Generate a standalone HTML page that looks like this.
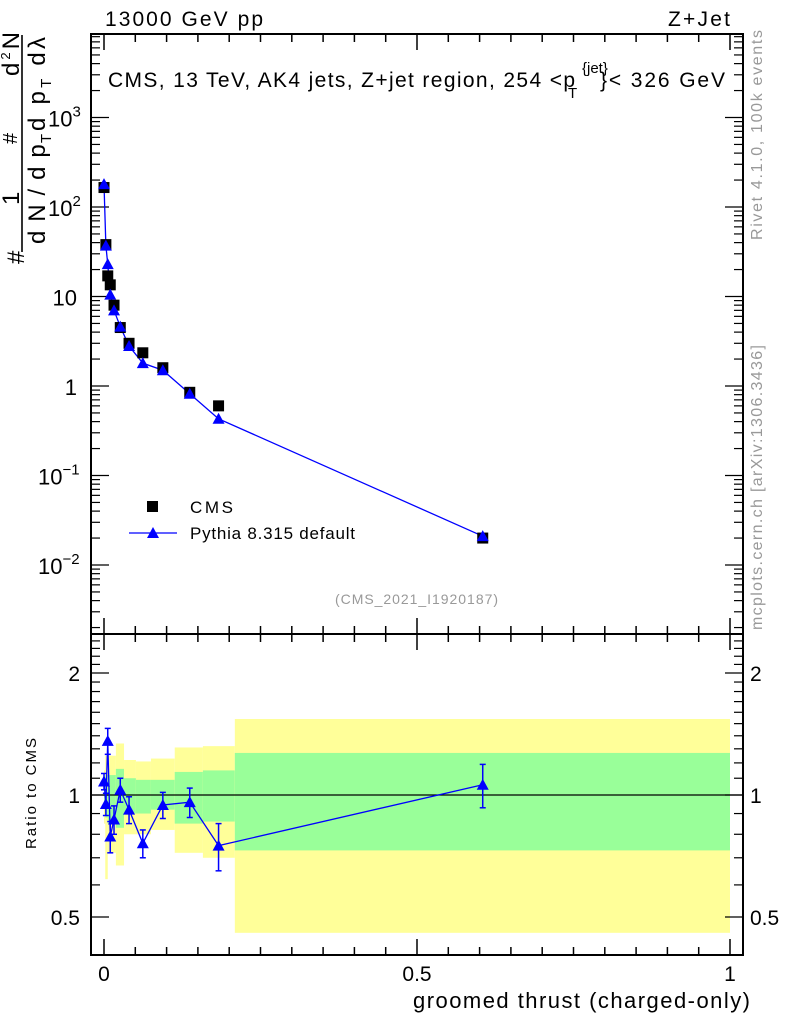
<!DOCTYPE html>
<html><head><meta charset="utf-8"><style>
body{margin:0;background:#fff;}
svg text{font-family:"Liberation Sans",sans-serif;}
</style></head><body>
<svg id="chart" width="786" height="1024" xmlns="http://www.w3.org/2000/svg">
<g id="g-bands"></g>
<g id="g-axes"></g>
<g id="g-marks"></g>
<text x="105" y="26" font-size="21" textLength="158">13000 GeV pp</text>
<text x="668" y="26" font-size="21" textLength="62">Z+Jet</text>
<g font-size="21">
<text x="108" y="87" textLength="467">CMS, 13 TeV, AK4 jets, Z+jet region, 254 &lt;p</text>
<text x="582" y="73" font-size="15">{jet}</text>
<text x="568" y="98" font-size="15">T</text>
<text x="600" y="87" textLength="125">}&lt; 326 GeV</text>
</g>
<text x="335" y="604" font-size="14" fill="#999" textLength="163">(CMS_2021_I1920187)</text>
<text transform="translate(762,240) rotate(-90)" font-size="16" fill="#999" textLength="210">Rivet 4.1.0,  100k events</text>
<text transform="translate(762,630) rotate(-90)" font-size="16" fill="#999" textLength="285">mcplots.cern.ch [arXiv:1306.3436]</text>
<g font-size="24">
<text transform="translate(24,264) rotate(-90)">#</text>
<text transform="translate(19,205) rotate(-90)">1</text>
<text transform="translate(17,144) rotate(-90)" font-size="20">#</text>
<text transform="translate(19,76) rotate(-90)" textLength="44">d<tspan font-size="13" dy="-9">2</tspan><tspan dy="9">N</tspan></text>
<line x1="22" y1="252" x2="22" y2="35" stroke="#000" stroke-width="1.6"/>
<text transform="translate(45,244) rotate(-90)" textLength="110">d N / d p<tspan font-size="15" dy="6">T</tspan></text>
<text transform="translate(45,131) rotate(-90)" textLength="94">d p<tspan font-size="15" dy="6">T</tspan><tspan dy="-6">  d</tspan>λ</text>
</g>
<text transform="translate(36,849) rotate(-90)" font-size="15" textLength="111">Ratio to CMS</text>
<text x="413" y="1008" font-size="22" textLength="337">groomed thrust (charged-only)</text>
<g>
<rect x="147" y="501" width="11" height="11" fill="#000"/>
<text x="190" y="513" font-size="17" textLength="43">CMS</text>
<line x1="129" y1="533" x2="177" y2="533" stroke="#00f" stroke-width="1.3"/>
<polygon points="153,527 159,538 147,538" fill="#00f"/>
<text x="190" y="539" font-size="17" textLength="165">Pythia 8.315 default</text>
</g>
</svg>
<script>
const xVals=[0.0,0.003,0.006,0.01,0.016,0.026,0.04,0.062,0.094,0.137,0.183,0.605];
const cmsVals=[165,38,17,13.5,8,4.5,3,2.35,1.6,0.85,0.6,0.02];
const pyVals=[180,37,23,10.5,7,4.6,2.8,1.8,1.5,0.82,0.43,0.021];
const ratioVals=[1.08,0.95,1.36,0.79,0.87,1.03,0.92,0.76,0.945,0.96,0.75,1.06];
const ratioErr=[0.05,0.06,0.1,0.07,0.07,0.07,0.07,0.06,0.07,0.08,0.1,0.13];
const binEdges=[0,0.002,0.006,0.019,0.032,0.051,0.075,0.113,0.158,0.209,1.0];
const yellowHi=[1.15,1.25,1.25,1.34,1.22,1.21,1.23,1.31,1.32,1.54];
const yellowLo=[0.85,0.62,0.72,0.67,0.8,0.8,0.82,0.72,0.70,0.457];
const greenHi=[1.08,1.12,1.12,1.16,1.1,1.09,1.09,1.14,1.15,1.27];
const greenLo=[0.93,0.88,0.85,0.83,0.9,0.9,0.92,0.85,0.86,0.73];
const xTicksMajor=[0,0.5,1];
const xTickLabels=["0","0.5","1"];
const yDecades=[-2,-1,0,1,2,3];
const yDecLabels=["10","10","1","10","10","10"];
const yDecSup=["−2","−1","","","2","3"];
const rTicks=[0.5,1,2];
const rTickLabels=["0.5","1","2"];

const NS="http://www.w3.org/2000/svg";
const L=91,R=743,T1=34,B1=634,B2=955;
const X=v=>104+626*v;
const Y=v=>386-89.5*Math.log10(v);
const RY=v=>795-122*Math.log2(v);
function mk(p,tag,a){const e=document.createElementNS(NS,tag);for(const k in a)e.setAttribute(k,a[k]);p.appendChild(e);return e;}
const gb=document.getElementById('g-bands'),ga=document.getElementById('g-axes'),gm=document.getElementById('g-marks');

for(let i=0;i<binEdges.length-1;i++){
  const x1=X(binEdges[i]),x2=X(binEdges[i+1]);
  const y=mk(gb,'rect',{x:x1,y:RY(yellowHi[i]),width:x2-x1,height:RY(yellowLo[i])-RY(yellowHi[i]),fill:'#ffff99'});
  
  
  const g=mk(gb,'rect',{x:x1,y:RY(greenHi[i]),width:x2-x1,height:RY(greenLo[i])-RY(greenHi[i]),fill:'#99ff99'});
  
  
}
mk(ga,'rect',{x:L,y:T1,width:R-L,height:B1-T1,fill:'none',stroke:'#000','stroke-width':2});
mk(ga,'rect',{x:L,y:B1,width:R-L,height:B2-B1,fill:'none',stroke:'#000','stroke-width':2});
mk(ga,'line',{x1:L,x2:R,y1:RY(1),y2:RY(1),stroke:'#000','stroke-width':1.2});
for(let k=0;k<=20;k++){const v=k*0.05,x=X(v),big=(k%10===0),len=big?16:8;
  [T1,B1].forEach(t=>mk(ga,'line',{x1:x,x2:x,y1:t,y2:t+len,stroke:'#000','stroke-width':1.5}));
  [B1,B2].forEach(b=>mk(ga,'line',{x1:x,x2:x,y1:b,y2:b-len,stroke:'#000','stroke-width':1.5}));
}
xTicksMajor.forEach((v,i)=>{const t=mk(ga,'text',{x:X(v),y:981,'font-size':21,'text-anchor':'middle'});t.textContent=xTickLabels[i];
  
  });
for(let d=-3;d<=3;d++){for(let m=1;m<10;m++){const v=m*Math.pow(10,d),y=Y(v);if(y<T1||y>B1)continue;const len=m===1?18:9;
  mk(ga,'line',{x1:L,x2:L+len,y1:y,y2:y,stroke:'#000','stroke-width':1.2});
  mk(ga,'line',{x1:R,x2:R-len,y1:y,y2:y,stroke:'#000','stroke-width':1.2});}}
yDecades.forEach((d,i)=>{const sup=yDecSup[i];
  const t=mk(ga,'text',{x:77,y:Y(Math.pow(10,d))+9,'font-size':22,'text-anchor':sup?'start':'end'});
  t.textContent=yDecLabels[i];
  if(sup){t.setAttribute('x',sup.length>1?38:48);const s=mk(t,'tspan',{'font-size':15,dy:-10});s.textContent=sup;}
  
  });
for(let v=0.4;v<=2.5;v+=0.1){const y=RY(v);if(y<B1||y>B2)continue;const big=[0.5,1,2].some(q=>Math.abs(q-v)<1e-6);const len=big?18:9;
  mk(ga,'line',{x1:L,x2:L+len,y1:y,y2:y,stroke:'#000','stroke-width':1.2});
  mk(ga,'line',{x1:R,x2:R-len,y1:y,y2:y,stroke:'#000','stroke-width':1.2});}
rTicks.forEach((v,i)=>{[[80,'end'],[750,'start']].forEach(([x,a])=>{const t=mk(ga,'text',{x:x,y:RY(v)+8,'font-size':21,'text-anchor':a});t.textContent=rTickLabels[i];
  
  });});
mk(gm,'polyline',{points:xVals.map((x,i)=>X(x)+','+Y(pyVals[i])).join(' '),fill:'none',stroke:'#00f','stroke-width':1.3});
xVals.forEach((x,i)=>{
  const c=mk(gm,'rect',{x:X(x)-5.5,y:Y(cmsVals[i])-5.5,width:11,height:11,fill:'#000'});
  
  
  const px=X(x),py=Y(pyVals[i]);
  const p=mk(gm,'polygon',{points:`${px},${py-6} ${px+6},${py+5} ${px-6},${py+5}`,fill:'#00f'});
  
  
});
mk(gm,'polyline',{points:xVals.map((x,i)=>X(x)+','+RY(ratioVals[i])).join(' '),fill:'none',stroke:'#00f','stroke-width':1.3});
xVals.forEach((x,i)=>{const px=X(x),y1=RY(ratioVals[i]+ratioErr[i]),y2=RY(ratioVals[i]-ratioErr[i]),py=RY(ratioVals[i]);
  mk(gm,'line',{x1:px,x2:px,y1:y1,y2:y2,stroke:'#00f','stroke-width':1.5});
  mk(gm,'line',{x1:px-3,x2:px+3,y1:y1,y2:y1,stroke:'#00f','stroke-width':1.5});
  mk(gm,'line',{x1:px-3,x2:px+3,y1:y2,y2:y2,stroke:'#00f','stroke-width':1.5});
  const p=mk(gm,'polygon',{points:`${px},${py-6} ${px+6},${py+5} ${px-6},${py+5}`,fill:'#00f'});
  
  
});
</script>
</body></html>
